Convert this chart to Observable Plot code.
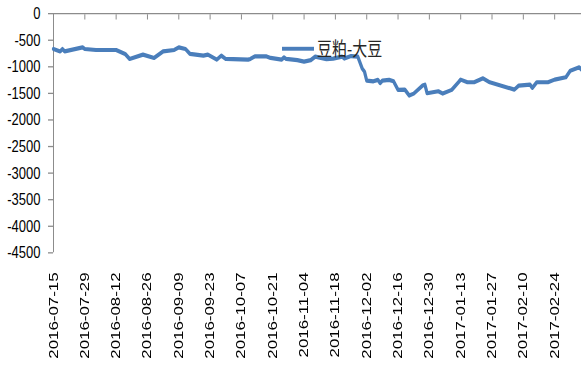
<!DOCTYPE html>
<html>
<head>
<meta charset="utf-8">
<script src="https://cdn.jsdelivr.net/npm/d3@7"></script>
<script src="https://cdn.jsdelivr.net/npm/@observablehq/plot@0.6"></script>
<style>
  html, body { margin: 0; padding: 0; background: #fff; }
  #page {
    width: 581px;
    height: 368px;
    overflow: hidden;
    background: #fff;
  }
  #chart {
    position: relative;
    width: 581px;
    height: 283px;
    transform: scaleY(1.3);
    transform-origin: 0 0;
  }
  .legend {
    position: absolute;
    left: 282px;
    top: 28px;
    display: flex;
    align-items: center;
    font-family: "Noto Sans CJK SC", sans-serif;
    font-size: 15px;
    line-height: 18px;
    color: #262626;
  }
  .legend .swatch {
    width: 32px;
    height: 3px;
    background: #4A7EBB;
    margin-right: 3px;
  }
</style>
</head>
<body>
<div id="page"><div id="chart"></div></div>
<script>
// Soybean meal minus soybean spread (豆粕-大豆), daily
const seriesName = "豆粕-大豆";

const dates = [
  "2016-07-15", "2016-07-18", "2016-07-19", "2016-07-20", "2016-07-28", "2016-07-29",
  "2016-08-03", "2016-08-12", "2016-08-16", "2016-08-18", "2016-08-24", "2016-08-29",
  "2016-09-02", "2016-09-07", "2016-09-09", "2016-09-12", "2016-09-14", "2016-09-20",
  "2016-09-22", "2016-09-26", "2016-09-28", "2016-09-30", "2016-10-10", "2016-10-11",
  "2016-10-13", "2016-10-18", "2016-10-20", "2016-10-25", "2016-10-26", "2016-10-27",
  "2016-11-01", "2016-11-04", "2016-11-07", "2016-11-09", "2016-11-11", "2016-11-14",
  "2016-11-17", "2016-11-21", "2016-11-22", "2016-11-25", "2016-11-28", "2016-11-29",
  "2016-11-30", "2016-12-01", "2016-12-02", "2016-12-05", "2016-12-07", "2016-12-08",
  "2016-12-09", "2016-12-12", "2016-12-14", "2016-12-16", "2016-12-19", "2016-12-21",
  "2016-12-23", "2016-12-27", "2016-12-28", "2016-12-29", "2017-01-03", "2017-01-05",
  "2017-01-09", "2017-01-12", "2017-01-13", "2017-01-16", "2017-01-19", "2017-01-23",
  "2017-01-26", "2017-02-06", "2017-02-08", "2017-02-13", "2017-02-14", "2017-02-16",
  "2017-02-21", "2017-02-24", "2017-03-01", "2017-03-03", "2017-03-07", "2017-03-08"
];

const values = [
  -665, -710, -665, -710, -634, -665,
  -683, -683, -758, -852, -771, -833,
  -709, -683, -634, -665, -758, -790,
  -771, -865, -790, -852, -865, -852,
  -803, -803, -833, -865, -821, -852,
  -874, -902, -874, -808, -827, -855,
  -846, -808, -846, -799, -808, -921,
  -1034, -1090, -1259, -1273, -1246, -1306,
  -1259, -1246, -1273, -1434, -1428, -1541,
  -1504, -1353, -1335, -1498, -1461, -1504,
  -1434, -1291, -1241, -1291, -1291, -1216,
  -1291, -1429, -1353, -1335, -1397, -1291,
  -1291, -1241, -1197, -1072, -1009, -1053
];

// Axis settings
const xStart = "2016-07-15";
const xEnd = "2017-03-08";
const xTickLabels = [
  "2016-07-15", "2016-07-29", "2016-08-12", "2016-08-26", "2016-09-09", "2016-09-23",
  "2016-10-07", "2016-10-21", "2016-11-04", "2016-11-18", "2016-12-02", "2016-12-16",
  "2016-12-30", "2017-01-13", "2017-01-27", "2017-02-10", "2017-02-24"
];
const yTicks = [0, -500, -1000, -1500, -2000, -2500, -3000, -3500, -4000, -4500];

const parse = d3.utcParse("%Y-%m-%d");
const fmt = d3.utcFormat("%Y-%m-%d");
const data = dates.map((d, i) => ({date: parse(d), value: values[i]}));
const xTicks = xTickLabels.map(parse);

const axisColor = "#8c8c8c";
const lineColor = "#4A7EBB";

const chart = Plot.plot({
  width: 581,
  height: 283,
  marginLeft: 53,
  marginRight: 0,
  marginTop: 10,
  marginBottom: 89,
  style: {
    fontFamily: '"Liberation Sans", Arial, sans-serif',
    fontSize: "13px",
    color: "#000",
    background: "#fff",
    overflow: "visible"
  },
  x: {type: "utc", domain: [parse(xStart), parse(xEnd)], axis: null},
  y: {domain: [-4500, 0], axis: null},
  marks: [
    Plot.ruleY([0], {stroke: axisColor}),
    Plot.ruleX([parse(xStart)], {stroke: axisColor}),
    Plot.axisY(yTicks, {
      tickSize: 5, tickPadding: 8, stroke: axisColor, fill: "#000",
      tickFormat: d => String(d), label: null, fontSize: 13
    }),
    // date ticks hang down from the zero line
    Plot.axisX(xTicks, {anchor: "top", tickSize: -4, stroke: axisColor, fill: "none", label: null}),
    // date labels sit below the frame, reading bottom to top
    Plot.text(xTicks, {
      x: d => d, text: d => fmt(d), frameAnchor: "bottom",
      rotate: -90, textAnchor: "end", dx: 4, dy: 15, fontSize: 13, fill: "#000"
    }),
    Plot.line(data, {x: "date", y: "value", stroke: lineColor, strokeWidth: 3.2, strokeLinejoin: "round"})
  ]
});

const container = document.getElementById("chart");
container.appendChild(chart);

const legend = document.createElement("div");
legend.className = "legend";
const swatch = document.createElement("span");
swatch.className = "swatch";
const label = document.createElement("span");
label.textContent = seriesName;
legend.append(swatch, label);
container.appendChild(legend);
</script>
</body>
</html>
